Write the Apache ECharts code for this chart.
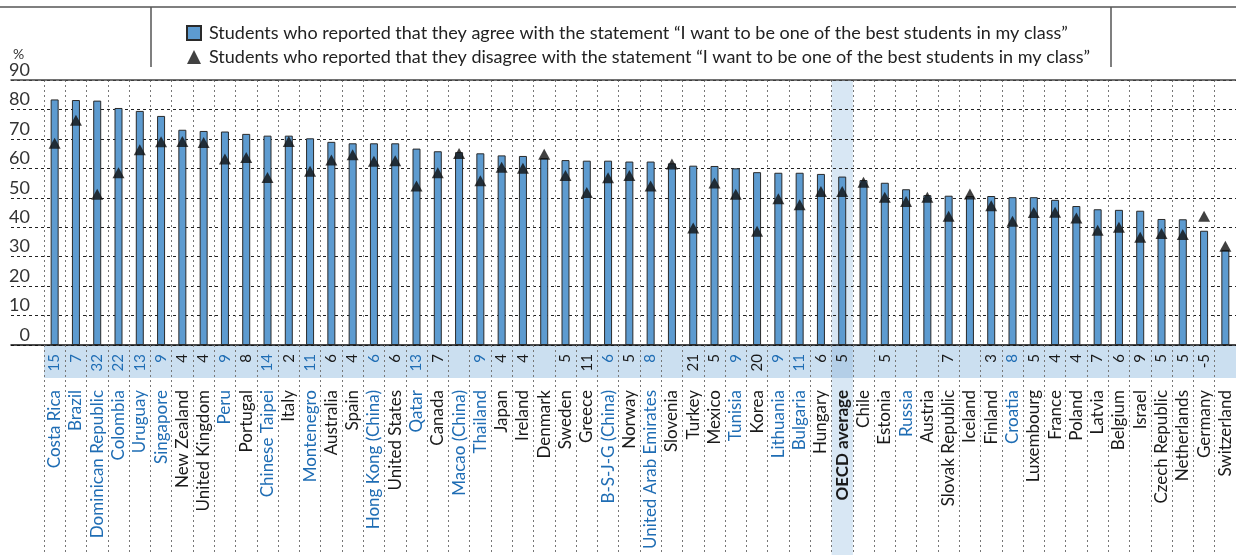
<!DOCTYPE html>
<html>
<head>
<meta charset="utf-8">
<script src="https://cdn.jsdelivr.net/npm/echarts@6/dist/echarts.min.js"></script>
<style>
  html, body { margin: 0; padding: 0; background: #fff; }
  #chart { width: 1236px; height: 555px; }
</style>
</head>
<body>
<div id="chart"></div>
<script>
// countries, sorted by share of students who agree
const countries = [
  "Costa Rica", "Brazil", "Dominican Republic", "Colombia", "Uruguay", "Singapore",
  "New Zealand", "United Kingdom", "Peru", "Portugal", "Chinese Taipei", "Italy",
  "Montenegro", "Australia", "Spain", "Hong Kong (China)", "United States", "Qatar",
  "Canada", "Macao (China)", "Thailand", "Japan", "Ireland", "Denmark", "Sweden",
  "Greece", "B-S-J-G (China)", "Norway", "United Arab Emirates", "Slovenia", "Turkey",
  "Mexico", "Tunisia", "Korea", "Lithuania", "Bulgaria", "Hungary", "OECD average",
  "Chile", "Estonia", "Russia", "Austria", "Slovak Republic", "Iceland", "Finland",
  "Croatia", "Luxembourg", "France", "Poland", "Latvia", "Belgium", "Israel",
  "Czech Republic", "Netherlands", "Germany", "Switzerland"
];
const agree = [
  83.4, 83.2, 83.0, 80.5, 79.5, 77.8, 73.1, 72.7, 72.5, 71.7, 71.1, 71.1, 70.2, 69.0,
  68.5, 68.5, 68.5, 66.7, 65.8, 65.5, 65.1, 64.4, 64.2, 63.5, 62.8, 62.6, 62.6, 62.3,
  62.3, 61.7, 60.9, 60.8, 60.0, 58.7, 58.5, 58.5, 58.1, 57.2, 56.0, 55.1, 52.9, 50.9,
  50.7, 50.6, 50.6, 50.2, 50.2, 49.3, 47.2, 46.1, 45.9, 45.6, 42.8, 42.7, 38.8, 32.3
];
const disagree = [
  68.5, 76.3, 51.2, 58.5, 66.3, 69.0, 69.1, 68.8, 63.2, 63.7, 56.9, 69.1, 59.0, 62.8,
  64.6, 62.4, 62.6, 54.0, 58.5, 65.0, 55.8, 60.4, 60.0, 64.8, 57.6, 51.8, 56.8, 57.6,
  54.0, 61.5, 39.7, 55.0, 51.2, 38.6, 49.7, 47.6, 52.1, 52.1, 55.3, 50.2, 48.7, 50.2,
  43.7, 51.3, 47.3, 42.0, 45.0, 45.1, 43.1, 39.0, 40.0, 36.6, 37.9, 37.5, 43.7, 33.5
];
// significant differences (agree - disagree), blank when not significant
const diffs = [
  "15", "7", "32", "22", "13", "9", "4", "4", "9", "8", "14", "2", "11", "6", "4", "6",
  "6", "13", "7", "", "9", "4", "4", "", "5", "11", "6", "5", "8", "", "21", "5", "9",
  "20", "9", "11", "6", "5", "", "5", "", "", "7", "", "3", "8", "5", "4", "4", "7",
  "6", "9", "5", "5", "-5", ""
];
const partners = [
  "Costa Rica", "Brazil", "Dominican Republic", "Colombia", "Uruguay", "Singapore",
  "Peru", "Chinese Taipei", "Montenegro", "Hong Kong (China)", "Qatar", "Macao (China)",
  "Thailand", "B-S-J-G (China)", "United Arab Emirates", "Tunisia", "Lithuania",
  "Bulgaria", "Russia", "Croatia"
];
const yTicks = [0, 10, 20, 30, 40, 50, 60, 70, 80, 90];
const oecdName = "OECD average";
const seriesNames = [
  "Students who reported that they agree with the statement \u201cI want to be one of the best students in my class\u201d",
  "Students who reported that they disagree with the statement \u201cI want to be one of the best students in my class\u201d"
];

const FONT = 'Lato, "Open Sans", sans-serif';
const BLUE_TXT = "#1f6db4";
const labelColor = (value, index) => partners.includes(countries[index]) ? BLUE_TXT : "#1a1a1a";
const oecdOnly = countries.map((c) => (c === oecdName ? 1 : "-"));

const plotLeft = 44;
const plotWidth = 1196;

const chart = echarts.init(document.getElementById("chart"));
const option = {
  animation: false,
  backgroundColor: "#fff",
  textStyle: { fontFamily: FONT },
  legend: {
    orient: "vertical",
    left: 181,
    top: 19,
    itemWidth: 14,
    itemHeight: 14,
    itemGap: 6,
    selectedMode: false,
    textStyle: { fontSize: 18, lineHeight: 18, color: "#222", fontFamily: FONT, padding: [0, 0, 0, 3] },
    data: [
      { name: seriesNames[0], icon: "rect" },
      { name: seriesNames[1], icon: "triangle" }
    ]
  },
  graphic: [
    { type: "line", shape: { x1: 0, y1: 7, x2: 1236, y2: 7 }, style: { stroke: "#555", lineWidth: 1.5 } },
    { type: "line", shape: { x1: 151, y1: 7, x2: 151, y2: 67 }, style: { stroke: "#555", lineWidth: 1.5 } },
    { type: "line", shape: { x1: 1111, y1: 7, x2: 1111, y2: 67 }, style: { stroke: "#555", lineWidth: 1.5 } }
  ],
  grid: [
    // frame: y axis, gridlines, top and bottom lines
    { left: 11, right: 0, top: 80, bottom: 210 },
    // bars
    { left: plotLeft, width: plotWidth, top: 80, bottom: 210 },
    // difference band
    { left: plotLeft, width: plotWidth, top: 345, height: 33, show: true, backgroundColor: "#cbdff0", borderWidth: 0 },
    // OECD average column highlight
    { left: plotLeft, width: plotWidth, top: 80, bottom: 0 }
  ],
  xAxis: [
    {
      gridIndex: 0, type: "value", min: 0, max: 1, position: "bottom", z: 1,
      axisLine: { show: true, lineStyle: { color: "#111", width: 1.5 } },
      axisTick: { show: false }, axisLabel: { show: false }, splitLine: { show: false }
    },
    {
      gridIndex: 0, type: "value", min: 0, max: 1, position: "top", z: 1,
      axisLine: { show: true, lineStyle: { color: "#444", width: 1.5 } },
      axisTick: { show: false }, axisLabel: { show: false }, splitLine: { show: false }
    },
    {
      gridIndex: 1, type: "category", data: countries, position: "bottom", z: 1,
      axisLine: { show: false },
      axisTick: { show: true, interval: 0, length: 208, lineStyle: { color: "#777", type: [2, 3], width: 1 } },
      splitLine: { show: true, interval: 0, lineStyle: { color: "#777", type: [2, 3], width: 1 } },
      axisLabel: {
        interval: 0, rotate: 90, margin: 45, fontSize: 17, fontFamily: FONT,
        color: labelColor,
        formatter: (v) => (v === oecdName ? "{b|" + v + "}" : v),
        rich: { b: { fontWeight: "bold", fontSize: 17, color: "#1a1a1a", fontFamily: FONT } }
      }
    },
    {
      gridIndex: 1, type: "category", data: countries, position: "bottom", z: 1,
      axisLine: { show: false }, axisTick: { show: false }, splitLine: { show: false },
      axisLabel: {
        interval: 0, rotate: 90, margin: 9, fontSize: 15, fontFamily: FONT,
        color: labelColor,
        formatter: (v, i) => diffs[i]
      }
    },
    { gridIndex: 2, type: "category", data: countries, show: false },
    { gridIndex: 3, type: "category", data: countries, show: false }
  ],
  yAxis: [
    {
      gridIndex: 0, type: "value", min: 0, max: 90, interval: 10, z: 1,
      name: "%", nameLocation: "end", nameGap: 14,
      nameTextStyle: { align: "left", fontSize: 14, color: "#333", padding: [0, 0, 0, 2] },
      axisLine: { show: false }, axisTick: { show: false },
      axisLabel: {
        inside: true, margin: 19, align: "right", verticalAlign: "bottom",
        fontSize: 18, color: "#333", fontFamily: FONT, padding: [0, 0, 1, 0],
        formatter: (v) => (yTicks.includes(v) ? String(v) : "")
      },
      splitLine: { show: true, lineStyle: { color: "#222", type: [3, 3], width: 1 } }
    },
    { gridIndex: 1, type: "value", min: 0, max: 90, show: false },
    { gridIndex: 2, type: "value", min: 0, max: 1, show: false },
    { gridIndex: 3, type: "value", min: 0, max: 1, show: false }
  ],
  series: [
    {
      name: "oecd-column", type: "bar", xAxisIndex: 5, yAxisIndex: 3,
      data: oecdOnly, barWidth: "100%", z: 0.5, silent: true,
      itemStyle: { color: "#d8e7f4" }
    },
    {
      name: "oecd-cell", type: "bar", xAxisIndex: 4, yAxisIndex: 2,
      data: oecdOnly, barWidth: "100%", z: 0.6, silent: true,
      itemStyle: { color: "#b3cee7" }
    },
    {
      name: seriesNames[0], type: "bar", xAxisIndex: 2, yAxisIndex: 1,
      data: agree, barWidth: 8, z: 2,
      itemStyle: { color: "#5d9bd0", borderColor: "#2a2a2a", borderWidth: 1 }
    },
    {
      name: seriesNames[1], type: "scatter", xAxisIndex: 2, yAxisIndex: 1,
      data: disagree, symbol: "triangle", symbolSize: [12, 11], z: 3,
      itemStyle: { color: "#111" }
    }
  ]
};
chart.setOption(option);
window.addEventListener("resize", () => {
  chart.resize();
});
</script>
</body>
</html>
